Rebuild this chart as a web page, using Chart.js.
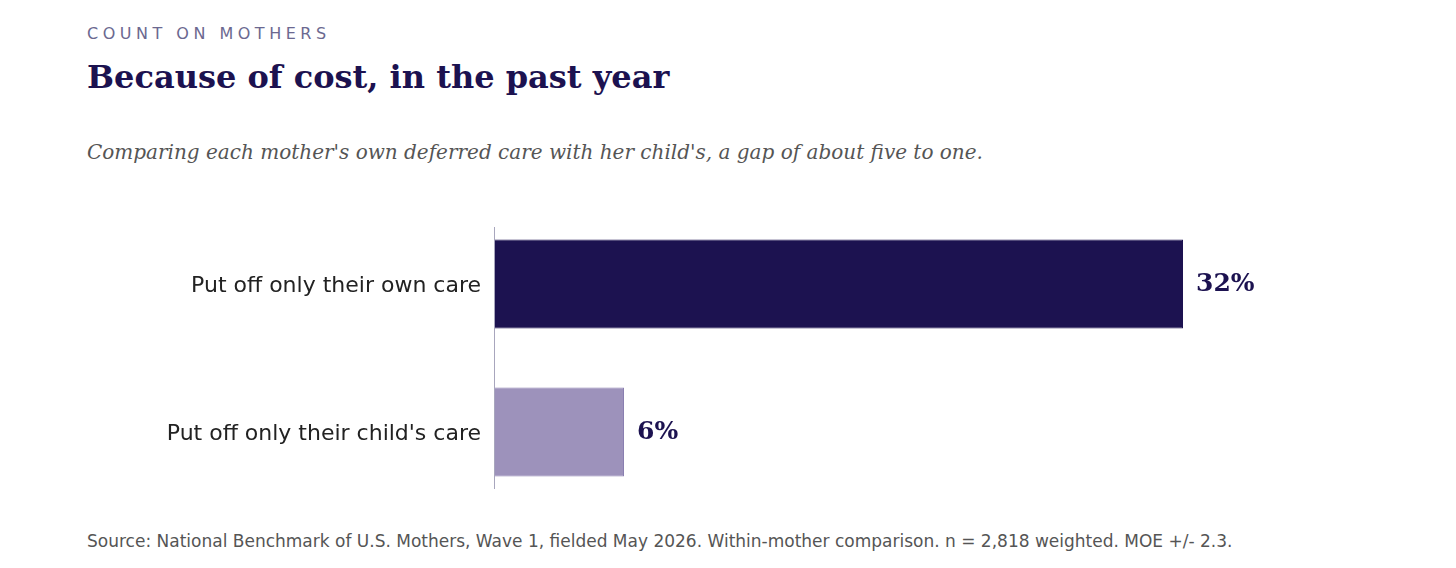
<!DOCTYPE html>
<html>
<head>
<meta charset="utf-8">
<script src="https://cdn.jsdelivr.net/npm/chart.js@4"></script>
<style>
  body { margin: 0; width: 1456px; height: 568px; background: #fff; position: relative; overflow: hidden; }
  .t { position: absolute; left: 87px; white-space: nowrap; }
  #kicker { top: 24px; font: 16px "DejaVu Sans", sans-serif; letter-spacing: 4.5px; color: #6b6890; }
  #title { top: 58px; font: bold 32px "DejaVu Serif", serif; color: #1c1250; }
  #sub { top: 140px; font: italic 20px "DejaVu Serif", serif; color: #555; }
  #src { top: 531px; font: 17px "DejaVu Sans", sans-serif; color: #555; }
  #wrap { position: absolute; left: 0; top: 210px; width: 1456px; height: 296px; }
</style>
</head>
<body>
<div class="t" id="kicker">COUNT ON MOTHERS</div>
<div class="t" id="title">Because of cost, in the past year</div>
<div class="t" id="sub">Comparing each mother's own deferred care with her child's, a gap of about five to one.</div>
<div id="wrap"><canvas id="myChart"></canvas></div>
<div class="t" id="src">Source: National Benchmark of U.S. Mothers, Wave 1, fielded May 2026. Within-mother comparison. n = 2,818 weighted. MOE +/- 2.3.</div>
<script>
var categories = ["Put off only their own care", "Put off only their child's care"];
var values = [32, 6];
var colors = ['#1c1250', '#9d92bb'];
var borders = ['#1c1250', '#8a7fb0'];

var labelsPlugin = {
    id: 'labels',
    afterDatasetsDraw: function (chart) {
        var c = chart.ctx;
        var x = chart.scales.x, y = chart.scales.y;
        var x0 = x.getPixelForValue(0);
        c.save();
        c.strokeStyle = '#a8a6bd';
        c.lineWidth = 1;
        c.beginPath();
        c.moveTo(x0 - 0.5, 17);
        c.lineTo(x0 - 0.5, 279);
        c.stroke();
        c.textBaseline = 'middle';
        categories.forEach(function (cat, i) {
            var py = y.getPixelForValue(i);
            c.fillStyle = '#222';
            c.font = '22px "DejaVu Sans", sans-serif';
            c.textAlign = 'right';
            c.fillText(cat, x0 - 14, py + 2);
            c.fillStyle = '#1c1250';
            c.font = 'bold 25px "DejaVu Serif", serif';
            c.textAlign = 'left';
            c.fillText(values[i] + '%', x.getPixelForValue(values[i]) + 13, py);
        });
        c.restore();
    }
};

var ctx = document.getElementById('myChart').getContext('2d');
var myChart = new Chart(ctx, {
    type: 'bar',
    data: {
        labels: categories,
        datasets: [{
            data: values,
            backgroundColor: colors,
            borderColor: borders,
            borderWidth: 1,
            barPercentage: 0.6,
            categoryPercentage: 1
        }]
    },
    options: {
        indexAxis: 'y',
        responsive: true,
        maintainAspectRatio: false,
        animation: false,
        layout: { padding: { left: 495, right: 101, top: 0, bottom: 0 } },
        plugins: { legend: { display: false }, tooltip: { enabled: false } },
        scales: {
            x: { min: 0, max: 40, display: false },
            y: { display: false }
        }
    },
    plugins: [labelsPlugin]
});
</script>
</body>
</html>
